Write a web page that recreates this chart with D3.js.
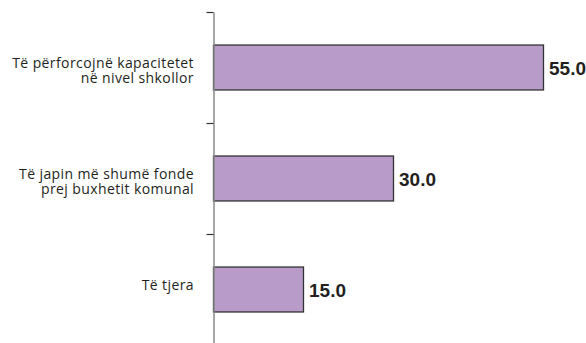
<!DOCTYPE html>
<html>
<head>
<meta charset="utf-8">
<script src="https://cdn.jsdelivr.net/npm/d3@7"></script>
<style>
  html, body { margin: 0; padding: 0; background: #fff; }
  svg { display: block; }
</style>
</head>
<body>
<svg id="chart" width="586" height="343"></svg>
<script>
// Responses: what should be done (percent)
const categories = [
  ["Të përforcojnë kapacitetet", "në nivel shkollor"],
  ["Të japin më shumë fonde", "prej buxhetit komunal"],
  ["Të tjera"]
];
const values = [55.0, 30.0, 15.0];

const width = 586, height = 343;
const axisX = 213.5;

const svg = d3.select("#chart");

const keys = categories.map((c, i) => i);

const y = d3.scaleBand()
  .domain(keys)
  .range([12, 345])
  .paddingInner(0.595)
  .paddingOuter(0.2975);

const x = d3.scaleLinear()
  .domain([0, 60])
  .range([axisX, axisX + 360]);

// Band boundaries for the category ticks
const yEdge = d3.scaleLinear()
  .domain([0, keys.length])
  .range(y.range());

// Bars
svg.append("g")
  .selectAll("rect")
  .data(values)
  .join("rect")
  .attr("x", x(0))
  .attr("y", (d, i) => y(i))
  .attr("width", d => x(d) - x(0))
  .attr("height", y.bandwidth())
  .attr("fill", "#b89bc9")
  .attr("stroke", "#333")
  .attr("stroke-width", 1.3);

// Category axis with ticks at band edges
const axis = svg.append("g")
  .attr("transform", `translate(${axisX},0)`)
  .call(d3.axisLeft(yEdge)
    .tickValues(d3.range(keys.length + 1))
    .tickFormat("")
    .tickSize(7)
    .tickSizeOuter(0));
axis.select(".domain").attr("stroke", "#8a8a8a").attr("stroke-width", 1.5);
axis.selectAll(".tick line").attr("stroke", "#333").attr("stroke-width", 1.2);

// Category labels
const labels = svg.append("g")
  .selectAll("text")
  .data(categories)
  .join("text")
  .attr("x", axisX - 19.5)
  .attr("y", (d, i) => y(i) + y.bandwidth() / 2)
  .attr("text-anchor", "end")
  .attr("font-family", "'Open Sans', sans-serif")
  .attr("font-size", 14)
  .attr("letter-spacing", 0.4)
  .attr("fill", "#231f20");
labels.selectAll("tspan")
  .data(d => d)
  .join("tspan")
  .attr("x", axisX - 19.5)
  .attr("dy", (d, j) => j === 0 ? 0 : 15)
  .text(d => d);

// Value labels
svg.append("g")
  .selectAll("text")
  .data(values)
  .join("text")
  .attr("x", d => x(d) + 5.5)
  .attr("y", (d, i) => y(i) + y.bandwidth() / 2 + 7.5)
  .attr("font-family", "'Liberation Sans', Arial, sans-serif")
  .attr("font-weight", "bold")
  .attr("font-size", 19)
  .attr("fill", "#231f20")
  .text(d => d.toFixed(1));
</script>
</body>
</html>
